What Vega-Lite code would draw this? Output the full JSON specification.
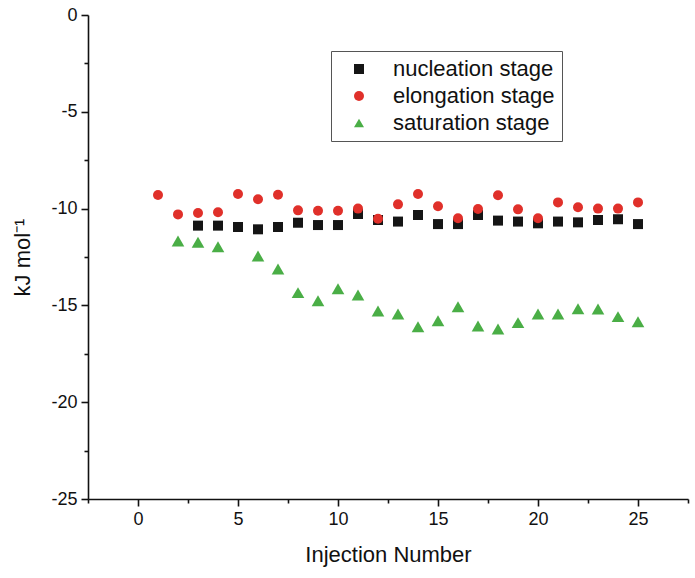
{
  "$schema": "https://vega.github.io/schema/vega-lite/v6.json",
  "width": 600,
  "height": 484,
  "autosize": {"type": "none"},
  "padding": {"left": 88, "top": 15, "right": 7, "bottom": 79},
  "config": {
    "view": {"stroke": null},
    "font": "Liberation Sans",
    "axis": {"domainColor": "#111", "tickColor": "#111", "labelColor": "#111", "titleColor": "#111", "domainWidth": 1.6, "tickWidth": 1.6, "grid": false, "labelFont": "Liberation Sans", "titleFont": "Liberation Sans", "titleFontWeight": "normal"}
  },
  "data": {"values": [
    {"x": 3, "y": -10.88, "stage": "nucleation stage"},
    {"x": 4, "y": -10.88, "stage": "nucleation stage"},
    {"x": 5, "y": -10.95, "stage": "nucleation stage"},
    {"x": 6, "y": -11.07, "stage": "nucleation stage"},
    {"x": 7, "y": -10.95, "stage": "nucleation stage"},
    {"x": 8, "y": -10.73, "stage": "nucleation stage"},
    {"x": 9, "y": -10.85, "stage": "nucleation stage"},
    {"x": 10, "y": -10.85, "stage": "nucleation stage"},
    {"x": 11, "y": -10.28, "stage": "nucleation stage"},
    {"x": 12, "y": -10.59, "stage": "nucleation stage"},
    {"x": 13, "y": -10.67, "stage": "nucleation stage"},
    {"x": 14, "y": -10.33, "stage": "nucleation stage"},
    {"x": 15, "y": -10.80, "stage": "nucleation stage"},
    {"x": 16, "y": -10.80, "stage": "nucleation stage"},
    {"x": 17, "y": -10.33, "stage": "nucleation stage"},
    {"x": 18, "y": -10.62, "stage": "nucleation stage"},
    {"x": 19, "y": -10.67, "stage": "nucleation stage"},
    {"x": 20, "y": -10.76, "stage": "nucleation stage"},
    {"x": 21, "y": -10.67, "stage": "nucleation stage"},
    {"x": 22, "y": -10.71, "stage": "nucleation stage"},
    {"x": 23, "y": -10.59, "stage": "nucleation stage"},
    {"x": 24, "y": -10.55, "stage": "nucleation stage"},
    {"x": 25, "y": -10.80, "stage": "nucleation stage"},
    {"x": 1, "y": -9.30, "stage": "elongation stage"},
    {"x": 2, "y": -10.30, "stage": "elongation stage"},
    {"x": 3, "y": -10.23, "stage": "elongation stage"},
    {"x": 4, "y": -10.19, "stage": "elongation stage"},
    {"x": 5, "y": -9.25, "stage": "elongation stage"},
    {"x": 6, "y": -9.52, "stage": "elongation stage"},
    {"x": 7, "y": -9.28, "stage": "elongation stage"},
    {"x": 8, "y": -10.09, "stage": "elongation stage"},
    {"x": 9, "y": -10.11, "stage": "elongation stage"},
    {"x": 10, "y": -10.11, "stage": "elongation stage"},
    {"x": 11, "y": -10.00, "stage": "elongation stage"},
    {"x": 12, "y": -10.52, "stage": "elongation stage"},
    {"x": 13, "y": -9.78, "stage": "elongation stage"},
    {"x": 14, "y": -9.25, "stage": "elongation stage"},
    {"x": 15, "y": -9.88, "stage": "elongation stage"},
    {"x": 16, "y": -10.50, "stage": "elongation stage"},
    {"x": 17, "y": -10.02, "stage": "elongation stage"},
    {"x": 18, "y": -9.31, "stage": "elongation stage"},
    {"x": 19, "y": -10.04, "stage": "elongation stage"},
    {"x": 20, "y": -10.50, "stage": "elongation stage"},
    {"x": 21, "y": -9.68, "stage": "elongation stage"},
    {"x": 22, "y": -9.93, "stage": "elongation stage"},
    {"x": 23, "y": -10.00, "stage": "elongation stage"},
    {"x": 24, "y": -10.00, "stage": "elongation stage"},
    {"x": 25, "y": -9.68, "stage": "elongation stage"},
    {"x": 2, "y": -11.67, "stage": "saturation stage"},
    {"x": 3, "y": -11.74, "stage": "saturation stage"},
    {"x": 4, "y": -11.97, "stage": "saturation stage"},
    {"x": 6, "y": -12.45, "stage": "saturation stage"},
    {"x": 7, "y": -13.12, "stage": "saturation stage"},
    {"x": 8, "y": -14.34, "stage": "saturation stage"},
    {"x": 9, "y": -14.76, "stage": "saturation stage"},
    {"x": 10, "y": -14.14, "stage": "saturation stage"},
    {"x": 11, "y": -14.46, "stage": "saturation stage"},
    {"x": 12, "y": -15.29, "stage": "saturation stage"},
    {"x": 13, "y": -15.44, "stage": "saturation stage"},
    {"x": 14, "y": -16.10, "stage": "saturation stage"},
    {"x": 15, "y": -15.79, "stage": "saturation stage"},
    {"x": 16, "y": -15.07, "stage": "saturation stage"},
    {"x": 17, "y": -16.06, "stage": "saturation stage"},
    {"x": 18, "y": -16.22, "stage": "saturation stage"},
    {"x": 19, "y": -15.89, "stage": "saturation stage"},
    {"x": 20, "y": -15.44, "stage": "saturation stage"},
    {"x": 21, "y": -15.44, "stage": "saturation stage"},
    {"x": 22, "y": -15.17, "stage": "saturation stage"},
    {"x": 23, "y": -15.19, "stage": "saturation stage"},
    {"x": 24, "y": -15.58, "stage": "saturation stage"},
    {"x": 25, "y": -15.84, "stage": "saturation stage"}
  ]},
  "layer": [
    {
      "mark": {"type": "point", "filled": true, "opacity": 0},
      "encoding": {
        "x": {"field": "x", "type": "quantitative", "scale": {"domain": [-2.5, 27.5], "nice": false, "zero": false},
          "axis": {"orient": "bottom", "values": [-2.5, 2.5, 7.5, 12.5, 17.5, 22.5, 27.5], "labels": false, "domain": false, "tickSize": 4, "title": null}},
        "y": {"field": "y", "type": "quantitative", "scale": {"domain": [-25, 0], "nice": false, "zero": false},
          "axis": {"orient": "left", "values": [-2.5, -7.5, -12.5, -17.5, -22.5], "labels": false, "domain": false, "tickSize": 4, "title": null}}
      }
    },
    {
      "mark": {"type": "point", "filled": true, "opacity": 1, "size": 100},
      "encoding": {
        "x": {"field": "x", "type": "quantitative", "scale": {"domain": [-2.5, 27.5], "nice": false, "zero": false},
          "axis": {"orient": "bottom", "values": [0, 5, 10, 15, 20, 25], "tickSize": 7, "labelFontSize": 18, "labelPadding": 4, "title": "Injection Number", "titleFontSize": 22, "titlePadding": 16}},
        "y": {"field": "y", "type": "quantitative", "scale": {"domain": [-25, 0], "nice": false, "zero": false},
          "axis": {"orient": "left", "values": [0, -5, -10, -15, -20, -25], "labelExpr": "replace(datum.label, '\u2212', '-')", "tickSize": 7, "labelFontSize": 18, "labelPadding": 4, "title": "kJ mol⁻¹", "titleFontSize": 22, "titlePadding": 16}},
        "color": {"field": "stage", "type": "nominal", "sort": ["nucleation stage", "elongation stage", "saturation stage"],
          "scale": {"domain": ["nucleation stage", "elongation stage", "saturation stage"], "range": ["#151515", "#e0302a", "#4aae46"]},
          "legend": {"title": null, "orient": "none", "legendX": 243, "legendY": 36, "strokeColor": "#555", "padding": 7, "symbolOffset": 10, "labelFontSize": 22, "labelLimit": 400, "labelOffset": 23, "rowPadding": 5, "symbolSize": 100, "labelColor": "#111"}},
        "shape": {"field": "stage", "type": "nominal", "sort": ["nucleation stage", "elongation stage", "saturation stage"],
          "scale": {"domain": ["nucleation stage", "elongation stage", "saturation stage"], "range": ["square", "circle", "triangle-up"]},
          "legend": {"title": null, "orient": "none", "legendX": 243, "legendY": 36, "strokeColor": "#555", "padding": 7, "symbolOffset": 10, "labelFontSize": 22, "labelLimit": 400, "labelOffset": 23, "rowPadding": 5, "symbolSize": 100, "labelColor": "#111"}},
        "size": {"condition": {"test": "datum.stage === 'saturation stage'", "value": 160}, "value": 100}
      }
    }
  ],
  "resolve": {"axis": {"x": "independent", "y": "independent"}}
}
